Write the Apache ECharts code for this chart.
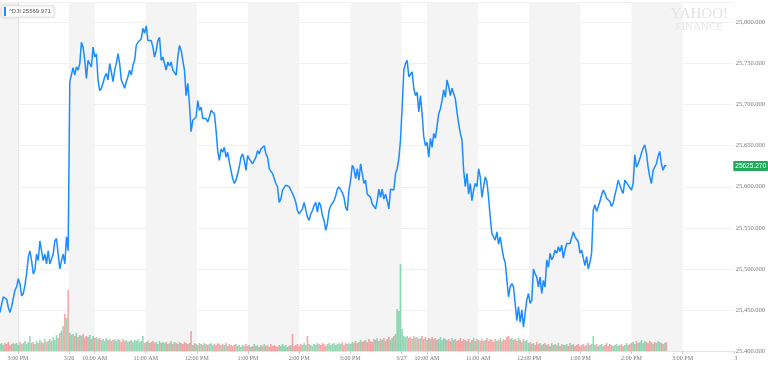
<!DOCTYPE html>
<html>
<head>
<meta charset="utf-8">
<script src="https://cdn.jsdelivr.net/npm/echarts@6/dist/echarts.min.js"></script>
<style>
html,body{margin:0;padding:0;background:#fff;}
#chart{width:768px;height:367px;}
</style>
</head>
<body>
<div id="chart"></div>
<script>
// ---- data ----
const SERIES_NAME = '^DJI';
const LEGEND_VALUE = 25569.971;
const LAST_PRICE = 25625.27;
// trading minutes relative to 3/25 3:00 PM (overnight gaps removed)
const START_MIN = -21;
const STEP_MIN = 1.95;
const AXIS_MIN = -21;
const AXIS_MAX = 840;

const prices = [
25447,25457,25466,25465,25463,25453,25447,25454,25453,25474,
25478,25488,25482,25467,25470,25480,25494,25514,25522,25510,
25494,25498,25518,25510,25534,25522,25510,25518,25506,25522,
25506,25508,25518,25534,25537,25518,25500,25510,25518,25506,
25539,25522,25728,25730,25745,25736,25746,25742,25750,25776,
25770,25754,25732,25754,25756,25746,25770,25758,25762,25730,
25717,25720,25726,25734,25738,25730,25750,25740,25728,25742,
25750,25762,25750,25730,25728,25720,25728,25734,25742,25736,
25748,25754,25772,25776,25778,25780,25793,25787,25796,25778,
25780,25778,25770,25758,25766,25778,25782,25754,25758,25760,
25742,25752,25747,25752,25742,25744,25736,25758,25772,25766,
25764,25742,25711,25726,25701,25667,25681,25679,25685,25705,
25693,25697,25683,25685,25683,25679,25685,25693,25695,25689,
25669,25644,25632,25646,25642,25648,25636,25642,25630,25620,
25610,25604,25608,25606,25624,25636,25640,25632,25620,25638,
25634,25636,25628,25632,25636,25644,25640,25646,25644,25650,
25640,25636,25622,25620,25616,25610,25604,25600,25581,25585,
25596,25598,25602,25604,25600,25600,25592,25587,25581,25571,
25567,25565,25573,25581,25583,25563,25559,25567,25571,25577,
25581,25569,25581,25577,25565,25559,25547,25555,25571,25577,
25579,25583,25589,25597,25600,25602,25593,25587,25575,25571,
25596,25608,25626,25622,25610,25622,25608,25628,25616,25604,
25608,25591,25589,25587,25579,25579,25573,25583,25597,25587,
25597,25585,25591,25583,25573,25597,25597,25596,25616,25622,
25634,25657,25697,25742,25750,25754,25734,25732,25740,25720,
25711,25715,25691,25711,25689,25661,25650,25654,25636,25659,
25648,25665,25659,25657,25689,25695,25705,25718,25709,25730,
25722,25711,25720,25722,25707,25691,25677,25665,25657,25620,
25600,25616,25591,25604,25583,25596,25604,25600,25622,25612,
25587,25600,25612,25606,25587,25563,25543,25539,25535,25545,
25530,25539,25526,25514,25508,25507,25466,25478,25482,25478,
25458,25437,25454,25435,25450,25429,25446,25462,25470,25458,
25462,25500,25494,25490,25478,25490,25470,25486,25478,25511,
25502,25519,25511,25515,25523,25519,25527,25521,25529,25513,
25523,25531,25529,25531,25529,25545,25539,25537,25533,25519,
25523,25513,25504,25515,25500,25508,25519,25571,25578,25570,
25576,25582,25590,25596,25592,25586,25584,25582,25576,25580,
25590,25598,25608,25602,25596,25592,25608,25608,25602,25600,
25596,25604,25639,25624,25628,25634,25641,25647,25651,25641,
25624,25612,25604,25620,25618,25628,25637,25643,25628,25620,
25626,25625.27
];

// volume, in hundred-thousand shares
const volumes = [
7,8,6,8,7,9,6,7,8,7,
8,6,9,7,8,10,7,9,15,8,
9,7,10,8,11,9,8,12,9,10,
12,10,14,11,16,13,18,20,25,37,
33,61,18,16,17,15,18,14,16,15,
17,13,15,14,16,12,15,13,14,12,
13,11,12,10,13,11,12,10,11,12,
10,12,11,9,12,10,11,9,10,11,
9,11,10,12,9,10,15,8,9,10,
8,9,10,8,9,7,10,8,9,8,
9,7,8,10,7,9,8,7,9,8,
7,9,8,7,8,20,6,8,7,6,
8,7,6,8,7,6,7,8,6,7,
6,8,7,6,7,6,8,5,7,6,
5,6,7,5,6,4,6,5,7,5,
6,4,5,7,5,6,4,6,5,7,
5,6,4,7,5,6,5,4,6,5,
7,5,6,4,5,6,17,5,6,7,
5,7,6,8,6,15,7,6,5,7,
6,8,7,6,8,7,5,7,8,6,
7,8,6,7,8,7,9,6,8,7,
8,7,9,8,10,8,9,11,9,10,
11,9,12,10,9,12,11,13,10,12,
11,13,10,12,14,11,13,15,17,42,
40,87,22,15,14,15,13,14,12,15,
13,14,12,13,15,12,14,11,13,12,
14,12,13,11,12,14,11,13,12,11,
12,10,13,11,12,10,11,13,10,12,
11,10,12,9,11,13,10,12,11,10,
12,10,11,13,10,12,11,9,12,10,
11,13,10,12,11,14,15,12,13,11,
12,10,13,11,9,12,10,11,8,9,
7,8,6,9,7,8,6,7,8,6,
7,5,8,6,7,6,8,5,7,6,
6,7,5,8,6,7,5,6,7,5,
6,7,5,6,8,6,7,15,6,7,
5,6,7,5,6,8,5,7,6,5,
6,7,5,6,7,5,6,8,6,7,
8,9,7,10,8,9,11,8,10,9,
8,10,9,7,9,8,10,9,8,7,
8,9
];

const tickMinutes = [0, 60, 90, 150, 210, 270, 330, 390, 450, 480, 540, 600, 660, 720, 780, 840];
const tickLabels = ['3:00 PM','3/26','10:00 AM','11:00 AM','12:00 PM','1:00 PM','2:00 PM','3:00 PM',
                    '3/27','10:00 AM','11:00 AM','12:00 PM','1:00 PM','2:00 PM','3:00 PM','3/28'];
const priceTicks = [25400, 25450, 25500, 25550, 25600, 25650, 25700, 25750, 25800];

// shaded session bands (start, end) in trading minutes
const bandStarts = [-21, 60, 150, 270, 390, 480, 600, 720];
const bandEnds   = [0,   90, 210, 330, 450, 540, 660, 780];

// ---- build ----
const LINE_COLOR = '#1a8cff';
const UP = 'rgba(40,180,110,0.5)';
const DOWN = 'rgba(240,80,80,0.5)';

const lineData = prices.map((p, j) => [START_MIN + j * STEP_MIN, p]);
const volData = volumes.map((v, j) => ({
  value: [START_MIN + j * STEP_MIN, v],
  itemStyle: { color: (j === 0 || prices[j] >= prices[j - 1]) ? UP : DOWN }
}));
const bandData = bandStarts.map((s, i) => [{ xAxis: s }, { xAxis: bandEnds[i] }]);
const labelFor = {};
tickMinutes.forEach((m, i) => { labelFor[m] = tickLabels[i]; });
const LAST_TICK = tickMinutes[tickMinutes.length - 1];

const fmtPrice = v => Number(v).toLocaleString('en-US', { minimumFractionDigits: 3, maximumFractionDigits: 3 });

const chart = echarts.init(document.getElementById('chart'), null, { renderer: 'canvas' });
chart.setOption({
  animation: false,
  backgroundColor: '#fff',
  grid: { left: 0, right: 32, top: 2, bottom: 16, containLabel: false },
  legend: {
    left: 2, top: 6,
    data: [{ name: SERIES_NAME, icon: 'rect' }],
    itemWidth: 2, itemHeight: 9, itemGap: 3,
    padding: [1, 3, 1, 2],
    backgroundColor: '#fff', borderColor: '#e8e8e8', borderWidth: 1,
    shadowBlur: 3, shadowColor: 'rgba(0,0,0,0.12)',
    selectedMode: false,
    textStyle: { fontSize: 6, color: '#555', fontFamily: 'Liberation Sans', padding: [0, 0, 0, -2] },
    formatter: name => name + ' ' + LEGEND_VALUE.toFixed(3)
  },
  xAxis: {
    type: 'value', min: AXIS_MIN, max: AXIS_MAX,
    axisLine: { show: true, lineStyle: { color: '#e4e4e4' } },
    axisTick: { show: true, customValues: tickMinutes, length: 3, lineStyle: { color: '#ccc' } },
    axisLabel: {
      customValues: tickMinutes, margin: 4,
      formatter: v => v === LAST_TICK ? '{cut|' + labelFor[v] + '}' : (labelFor[v] || ''),
      fontSize: 6, color: '#777', fontFamily: 'Liberation Serif',
      rich: { cut: { fontSize: 6, color: '#777', fontFamily: 'Liberation Serif', padding: [0, 0, 0, 12] } }
    },
    splitLine: { show: false }
  },
  yAxis: [{
    type: 'value', position: 'right', min: 25400, max: 25825, interval: 50,
    axisLine: { show: true, lineStyle: { color: '#e4e4e4' } },
    axisTick: { show: false },
    axisLabel: {
      showMaxLabel: false, margin: 2, fontSize: 6.5, color: '#777', fontFamily: 'Liberation Serif',
      formatter: v => priceTicks.indexOf(v) >= 0 ? fmtPrice(v) : ''
    },
    splitLine: { show: true, lineStyle: { color: '#f0f0f0' } },
    axisPointer: {
      show: true, type: 'line', value: LAST_PRICE, status: 'show', triggerTooltip: false,
      lineStyle: { opacity: 0 },
      label: {
        show: true, backgroundColor: '#1faa5e', color: '#fff', fontSize: 6.5, padding: [2, 2, 1, 2],
        fontFamily: 'Liberation Sans', margin: 0, borderRadius: 1,
        formatter: () => LAST_PRICE.toFixed(3)
      }
    }
  }, {
    type: 'value', min: 0, max: 349, show: false,
    splitLine: { show: false }
  }],
  series: [{
    name: 'bands', type: 'line', data: [], z: 1, silent: true,
    markArea: { silent: true, itemStyle: { color: '#f4f4f4' }, data: bandData }
  }, {
    name: 'Volume', type: 'bar', yAxisIndex: 1, data: volData, barWidth: 1.6, z: 2, silent: true
  }, {
    name: SERIES_NAME, type: 'line', data: lineData, z: 3,
    showSymbol: false, color: LINE_COLOR,
    lineStyle: { width: 1.5, color: LINE_COLOR }
  }],
  graphic: [
    { type: 'text', right: 40, top: 7, z: 10, silent: true, style: { text: 'YAHOO!', font: '15px "Liberation Serif"', fill: '#e3e3e3' } },
    { type: 'text', right: 45, top: 22, z: 10, silent: true, style: { text: 'FINANCE', font: '11px "Liberation Serif"', fill: '#e6e6e6' } },
    { type: 'group', left: 360, top: 327, z: 50, children: [
      { type: 'rect', shape: { x: 0, y: 0, width: 31, height: 12, r: 2 }, style: { fill: '#fff', shadowBlur: 3, shadowColor: 'rgba(0,0,0,0.15)' } },
      { type: 'line', shape: { x1: 15.5, y1: 2, x2: 15.5, y2: 10 }, style: { stroke: '#ddd', lineWidth: 1 } },
      { type: 'text', x: 4, y: 1, style: { text: '\u2212', font: '10px "Liberation Sans"', fill: '#666' } },
      { type: 'text', x: 20, y: 0.5, style: { text: '+', font: '10px "Liberation Sans"', fill: '#666' } }
    ]},
    { type: 'rect', left: 737, top: 353, z: 60, shape: { width: 31, height: 14 }, style: { fill: '#fff' } }
  ]
});
</script>
</body>
</html>
